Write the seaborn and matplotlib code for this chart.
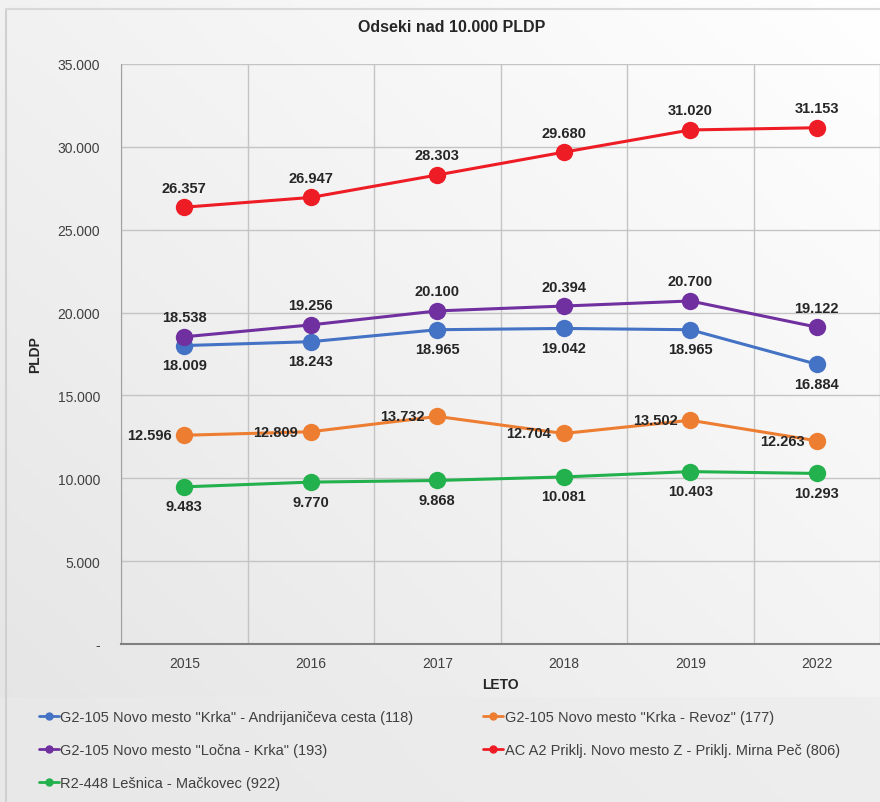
import numpy as np
import pandas as pd
import seaborn as sns
import matplotlib.pyplot as plt
from matplotlib.patches import Rectangle

years = ["2015", "2016", "2017", "2018", "2019", "2022"]

series_names = [
    'G2-105 Novo mesto "Krka" - Andrijaničeva cesta (118)',
    'G2-105 Novo mesto "Krka - Revoz" (177)',
    'G2-105 Novo mesto "Ločna - Krka" (193)',
    'AC A2 Priklj. Novo mesto Z - Priklj. Mirna Peč (806)',
    'R2-448 Lešnica - Mačkovec (922)',
]
krka_andrijaniceva = [18009, 18243, 18965, 19042, 18965, 16884]
krka_revoz = [12596, 12809, 13732, 12704, 13502, 12263]
locna_krka = [18538, 19256, 20100, 20394, 20700, 19122]
ac_a2 = [26357, 26947, 28303, 29680, 31020, 31153]
lesnica_mackovec = [9483, 9770, 9868, 10081, 10403, 10293]

colors = ["#4472c4", "#ed7d31", "#7030a0", "#ee1c25", "#22b14c"]
# where the value labels sit: below / left / above
label_pos = ["below", "left", "above", "above", "below"]

all_values = [krka_andrijaniceva, krka_revoz, locna_krka, ac_a2, lesnica_mackovec]
rows = []
for name, vals in zip(series_names, all_values):
    for i, (yr, v) in enumerate(zip(years, vals)):
        rows.append({"Leto": i, "PLDP": v, "Odsek": name})
df = pd.DataFrame(rows)

sns.set_style("white")
plt.rcParams["font.family"] = ["Liberation Sans", "DejaVu Sans"]

fig = plt.figure(figsize=(8.8, 8.03), dpi=100)

# background gradient
bg = fig.add_axes([0, 0, 1, 1], zorder=-10)
gy, gx = np.mgrid[0:1:200j, 0:1:200j]
grad = 0.5 * gy + 0.5 * (1 - gx)
bg.imshow(grad, cmap=plt.matplotlib.colors.LinearSegmentedColormap.from_list(
    "g", ["#ffffff", "#e4e4e4"]), aspect="auto", extent=[0, 1, 0, 1], origin="upper")
bg.add_patch(Rectangle((0, 0), 1, 105 / 803, color="#ebebeb", alpha=0.6, lw=0))
bg.plot([6 / 880, 6 / 880], [0, 1 - 10 / 803], color="#d0d0d0", lw=1.5)
bg.plot([6 / 880, 1], [1 - 10 / 803, 1 - 10 / 803], color="#d9d9d9", lw=1.5)
bg.set_xlim(0, 1)
bg.set_ylim(0, 1)
bg.axis("off")

ax = fig.add_axes([121 / 880, 1 - 645 / 803, 759 / 880, 580 / 803])
ax.set_facecolor("none")

sns.lineplot(data=df, x="Leto", y="PLDP", hue="Odsek", hue_order=series_names,
             palette=colors, marker="o", markersize=12.5, markeredgewidth=0,
             linewidth=2.2, ax=ax, legend=False, sort=False)

for name, vals, col, pos in zip(series_names, all_values, colors, label_pos):
    for i, v in enumerate(vals):
        txt = f"{v:,}".replace(",", ".")
        if pos == "above":
            ax.annotate(txt, (i, v), xytext=(0, 9), textcoords="offset points",
                        ha="center", va="bottom", fontsize=10.5, fontweight="bold")
        elif pos == "below":
            ax.annotate(txt, (i, v), xytext=(0, -9), textcoords="offset points",
                        ha="center", va="top", fontsize=10.5, fontweight="bold")
        else:
            ax.annotate(txt, (i, v), xytext=(-9, 0), textcoords="offset points",
                        ha="right", va="center", fontsize=10.5, fontweight="bold")

ax.set_xlim(-0.5, 5.5)
ax.set_ylim(0, 35000)
ax.set_xticks(range(len(years)))
ax.set_xticklabels(years)
yt = np.arange(0, 35001, 5000)
ax.set_yticks(yt)
ax.set_yticklabels(["-"] + [f"{v:,}".replace(",", ".") for v in yt[1:]])
ax.set_xticks(np.arange(-0.5, 5.6, 1), minor=True)
ax.grid(True, which="major", axis="y", color="#c4c4c4", lw=1)
ax.grid(True, which="minor", axis="x", color="#c4c4c4", lw=1)
ax.tick_params(axis="both", which="both", length=0, labelsize=10, colors="#404040")
ax.tick_params(axis="y", pad=15)
ax.tick_params(axis="x", pad=9)
for s in ["top", "right"]:
    ax.spines[s].set_visible(False)
ax.spines["left"].set_color("#a0a0a0")
ax.spines["bottom"].set_color("#7f7f7f")
ax.spines["bottom"].set_linewidth(1.5)

ax.set_xlabel("LETO", fontsize=10, fontweight="bold", color="#262626", labelpad=0)
ax.xaxis.set_label_coords((500 - 121) / 759, -33 / 580)
ax.set_ylabel("PLDP", fontsize=10, fontweight="bold", color="#262626")
ax.yaxis.set_label_coords(-(121 - 42) / 759, 0.5)

fig.text(452 / 880, 1 - 28 / 803, "Odseki nad 10.000 PLDP", ha="center", va="center",
         fontsize=11.5, fontweight="bold", color="#262626")

handles = [plt.Line2D([], [], color=c, marker="o", markersize=5, lw=2) for c in colors]
order = [0, 2, 4, 1, 3]
leg = fig.legend([handles[i] for i in order], [series_names[i] for i in order],
                 loc="upper left", bbox_to_anchor=(26 / 880, 1 - 698 / 803), ncol=2,
                 frameon=False, fontsize=10.5, handlelength=1.35, handletextpad=0.1,
                 columnspacing=4.8, labelspacing=1.3, labelcolor="#404040")

fig.savefig("out.png", dpi=100)
